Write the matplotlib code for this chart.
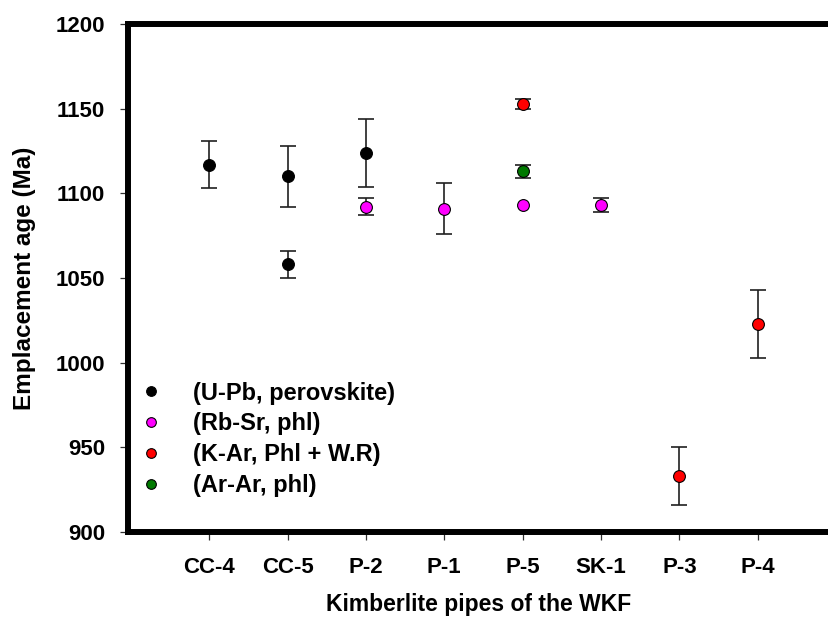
import numpy as np
import matplotlib

matplotlib.use("Agg")
import matplotlib.pyplot as plt

plt.rcParams["font.family"] = ["Liberation Sans", "DejaVu Sans"]
plt.rcParams["font.weight"] = "bold"

pipes = ["CC-4", "CC-5", "P-2", "P-1", "P-5", "SK-1", "P-3", "P-4"]

# one list per dating method: pipe name, age (Ma), error (Ma)
upb_pipe = ["CC-4", "CC-5", "CC-5", "P-2"]
upb_age = [1117, 1110, 1058, 1124]
upb_err = [14, 18, 8, 20]

rbsr_pipe = ["P-2", "P-1", "P-5", "SK-1"]
rbsr_age = [1092, 1091, 1093, 1093]
rbsr_err = [5, 15, np.nan, 4]

kar_pipe = ["P-5", "P-3", "P-4"]
kar_age = [1153, 933, 1023]
kar_err = [3, 17, 20]

arar_pipe = ["P-5"]
arar_age = [1113]
arar_err = [4]

series = [
    ("(U-Pb, perovskite)", upb_pipe, upb_age, upb_err, "black"),
    ("(Rb-Sr, phl)", rbsr_pipe, rbsr_age, rbsr_err, "#ff00ff"),
    ("(K-Ar, Phl + W.R)", kar_pipe, kar_age, kar_err, "#ff0000"),
    ("(Ar-Ar, phl)", arar_pipe, arar_age, arar_err, "#007a00"),
]

W, H = 829, 621
fig = plt.figure(figsize=(W / 100, H / 100), dpi=100)
ax = fig.add_axes([128.5 / W, (H - 532) / H, 1 - 128.5 / W, (532 - 24) / H])

pos = {p: i + 1 for i, p in enumerate(pipes)}
for label, names, ages, errs, color in series:
    x = [pos[n] for n in names]
    ax.errorbar(x, ages, yerr=errs, fmt="none", ecolor="#202020",
                elinewidth=1.2, capsize=5.8, capthick=1.2, zorder=2)
    ax.plot(x, ages, "o", ms=8.5, color=color, mec="black", mew=0.8,
            label=label, zorder=3)

ax.set_xlim(-0.03, 8.91)
ax.set_ylim(900, 1200)
ax.set_yticks(range(900, 1201, 50))
ax.set_xticks(range(1, len(pipes) + 1))
ax.set_xticklabels(pipes)

for side in ("left", "bottom", "top"):
    ax.spines[side].set_linewidth(4.3)
ax.spines["right"].set_visible(False)
ax.tick_params(axis="both", direction="out", length=6, width=0.9,
               color="#303030", labelsize=16, pad=11)
ax.tick_params(axis="x", pad=12)

ax.set_xlabel("Kimberlite pipes of the WKF", fontsize=16.5, fontweight="bold",
              labelpad=11)
ax.set_ylabel("Emplacement age (Ma)", fontsize=17.5, fontweight="bold",
              labelpad=14)

ax.legend(loc="upper left", bbox_to_anchor=(0.015, 0.296), frameon=False,
          fontsize=17, borderpad=0, borderaxespad=0, handlelength=1.0,
          handletextpad=1.28, labelspacing=0.33, markerscale=0.82)

fig.savefig("out.png", dpi=100)
